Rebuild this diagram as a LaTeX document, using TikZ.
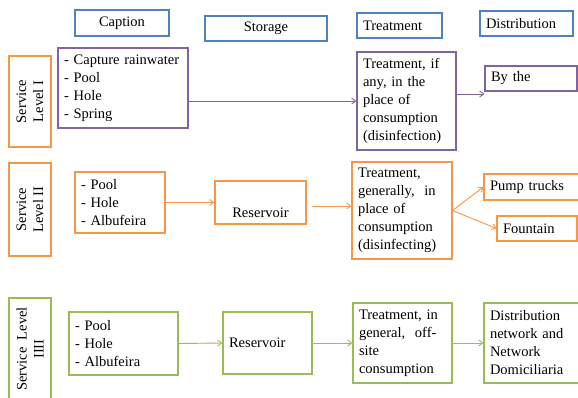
\documentclass[tikz,border=0pt]{standalone}
\usepackage{fontspec}
\setmainfont{Liberation Serif}
\usetikzlibrary{positioning}
\usetikzlibrary{arrows.meta}
\definecolor{hblue}{RGB}{79,129,189}
\definecolor{cpurple}{RGB}{128,100,162}
\definecolor{corange}{RGB}{247,150,70}
\definecolor{cgreen}{RGB}{155,187,89}
\tikzset{
    mynode/.style = {rectangle, line width=1.2pt, align=left, inner xsep=6pt, inner ysep=3pt, text=black, font=\fontsize{14.5}{18}\selectfont},
    mynodeh/.style = {mynode, draw=hblue},
    mynodep/.style = {mynode, draw=cpurple},
    mynodeo/.style = {mynode, draw=corange},
    mynodeg/.style = {mynode, draw=cgreen},
    mynodel/.style = {rectangle, line width=1.2pt, align=center, rotate=90, inner sep=2pt, text=black, font=\fontsize{14.5}{17}\selectfont},
    edgep/.style = {-{Straight Barb[length=4pt,width=6pt]}, line width=0.9pt, cpurple},
    edgeo/.style = {-{Straight Barb[length=4pt,width=6pt]}, line width=0.9pt, corange},
    edgeg/.style = {-{Straight Barb[length=4pt,width=6pt]}, line width=0.9pt, cgreen},
}

\begin{document}
\begin{tikzpicture}[x=1pt,y=-1pt]
\useasboundingbox (0,0) rectangle (578,397);
% headers
\node[mynodeh, align=center, minimum width=94pt, minimum height=26pt] at (122.0, 23.0) (hcap) {Caption};
\node[mynodeh, align=center, minimum width=122pt, minimum height=25pt] at (266.0, 28.5) (hsto) {Storage};
\node[mynodeh, text width=73pt, minimum height=25pt] at (399.5, 25.5) (htrt) {Treatment};
\node[mynodeh, text width=81pt, minimum height=25pt] at (526.5, 23.5) (hdis) {Distribution};

% level I
\node[mynodel, draw=corange, minimum width=91pt, minimum height=42pt] at (30.0, 101.5) (lvla) {Service\\Level I};
\node[mynodep, text width=118pt, minimum height=80pt] at (123.0, 88.0) (srca) {- Capture rainwater\\- Pool\\- Hole\\- Spring};
\node[mynodep, text width=87pt, minimum height=98pt] at (406.5, 101.0) (trta) {Treatment, if\\any, in the\\place of\\consumption\\(disinfection)};
\node[mynodep, text width=80pt, minimum height=25pt] at (531.0, 78.5) (byth) {By the};
\draw[edgep] (srca.east |- trta) -- (trta.west);
\draw[edgep] (trta.east |- 0,94) -- (byth.west |- 0,94);

% level II
\node[mynodel, draw=corange, minimum width=93pt, minimum height=42pt] at (30.0, 209.5) (lvlb) {Service\\Level II};
\node[mynodeo, text width=78pt, minimum height=61pt] at (120.0, 202.5) (srcb) {- Pool\\- Hole\\- Albufeira};
\node[mynodeo, align=center, minimum width=91pt, minimum height=43pt, text height=29pt, text depth=0pt] at (260.5, 202.5) (resb) {Reservoir};
\node[mynodeo, text width=88pt, minimum height=97pt] at (402.0, 210.5) (trtb) {Treatment,\\generally,\ \ in\\place of\\consumption\\(disinfecting)};
\node[mynodeo, text width=84pt, minimum height=26pt] at (532.0, 187.0) (pump) {Pump trucks};
\node[mynodeo, text width=68pt, minimum height=25pt] at (537.0, 228.5) (fount) {Fountain};
\draw[edgeo] (srcb.east) -- (resb.west);
\draw[edgeo, shorten <=5pt] (resb.east |- 0,206) -- (trtb.west |- 0,206);
\draw[edgeo] (trtb.east) -- (pump.west);
\draw[edgeo] (trtb.east) -- (fount.west);

% level III
\node[mynodel, draw=cgreen, minimum width=102pt, minimum height=42pt] at (30.0, 349.0) (lvlc) {Service\ \ Level\\IIII};
\node[mynodeg, text width=97pt, minimum height=63pt] at (123.5, 343.5) (srcc) {- Pool\\- Hole\\- Albufeira};
\node[mynodeg, text width=77pt, minimum height=62pt] at (267.5, 343.0) (resc) {Reservoir};
\node[mynodeg, text width=87pt, minimum height=80pt] at (402.5, 343.0) (trtc) {Treatment, in\\general,\ \ off-\\site\\consumption};
\node[mynodeg, text width=84pt, minimum height=80pt] at (532.0, 343.0) (dist) {Distribution\\network and\\Network\\Domiciliaria};
\draw[edgeg] (srcc.east) -- (resc.west);
\draw[edgeg] (resc.east) -- (trtc.west);
\draw[edgeg] (trtc.east) -- (dist.west);

\end{tikzpicture}
\end{document}
